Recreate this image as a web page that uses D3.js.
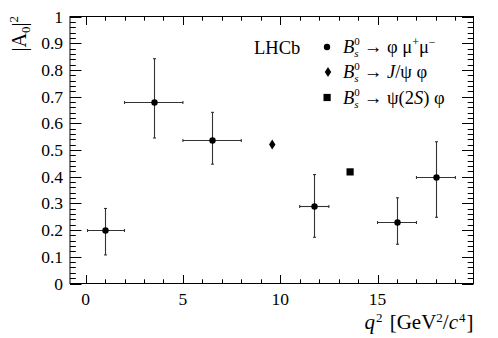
<!DOCTYPE html>
<html>
<head>
<meta charset="utf-8">
<script src="https://cdn.jsdelivr.net/npm/d3@7"></script>
<style>
  body { margin: 0; background: #fff; }
</style>
</head>
<body>
<div id="chart"></div>
<script>
// phi mu mu bins
const q2 = [1.0, 3.5, 6.5, 11.75, 16, 18];
const q2Lo = [0.1, 2, 5, 11, 15, 17];
const q2Hi = [2, 5, 8, 12.5, 17, 19];
const a0 = [0.2, 0.678, 0.539, 0.289, 0.23, 0.4];
const a0Lo = [0.107, 0.545, 0.447, 0.173, 0.147, 0.248];
const a0Hi = [0.281, 0.842, 0.641, 0.408, 0.321, 0.531];

// control channels
const jpsi = { q2: 9.59, a0: 0.521 };
const psi2s = { q2: 13.59, a0: 0.418 };

const yTicks = [0, 0.1, 0.2, 0.3, 0.4, 0.5, 0.6, 0.7, 0.8, 0.9, 1];
const xTicks = [0, 5, 10, 15];

const width = 498, height = 338;
const frame = { left: 70, right: 473.5, top: 16.5, bottom: 283.5 };
const serif = "'Liberation Serif', 'Times New Roman', Times, 'DejaVu Serif', serif";

const svg = d3.select('#chart').append('svg')
    .attr('width', width)
    .attr('height', height)
    .attr('font-family', serif)
    .style('font-family', serif);

const x = d3.scaleLinear().domain([-0.8, 19.93]).range([frame.left, frame.right]);
const y = d3.scaleLinear().domain([0, 1]).range([frame.bottom, frame.top]);

const axes = svg.append('g').attr('stroke', '#000').attr('stroke-width', 1);

// frame
axes.append('rect')
    .attr('x', frame.left)
    .attr('y', frame.top)
    .attr('width', frame.right - frame.left)
    .attr('height', frame.bottom - frame.top)
    .attr('fill', 'none');

// x ticks (bottom and top)
const xMinor = d3.range(0, 20, 1);
xMinor.forEach((v) => {
    const len = v % 5 === 0 ? 8.5 : 4.2;
    const px = Math.round(x(v)) + 0.5;
    axes.append('line').attr('x1', px).attr('x2', px)
        .attr('y1', frame.bottom).attr('y2', frame.bottom - len);
    axes.append('line').attr('x1', px).attr('x2', px)
        .attr('y1', frame.top).attr('y2', frame.top + len);
});

// y ticks (left and right)
const yMinor = d3.range(0, 51).map((i) => i / 50);
yMinor.forEach((v, i) => {
    const len = i % 5 === 0 ? 11.5 : 5.8;
    const py = Math.round(y(v)) + 0.5;
    axes.append('line').attr('y1', py).attr('y2', py)
        .attr('x1', frame.left).attr('x2', frame.left + len);
    axes.append('line').attr('y1', py).attr('y2', py)
        .attr('x1', frame.right).attr('x2', frame.right - len);
});

// tick labels
svg.append('g').selectAll('text')
    .data(yTicks)
    .join('text')
    .attr('x', 63)
    .attr('y', (d) => y(d) + 6)
    .attr('text-anchor', 'end')
    .attr('font-size', '17.5px')
    .text((d) => d === 0 || d === 1 ? d : d.toFixed(1));

svg.append('g').selectAll('text')
    .data(xTicks)
    .join('text')
    .attr('x', (d) => x(d))
    .attr('y', 305)
    .attr('text-anchor', 'middle')
    .attr('font-size', '17.5px')
    .text((d) => d);

// axis titles
const xTitle = svg.append('text')
    .attr('x', frame.right)
    .attr('y', 329)
    .attr('text-anchor', 'end')
    .attr('font-size', '21px');
xTitle.append('tspan').attr('font-style', 'italic').text('q');
xTitle.append('tspan').attr('font-size', '13px').attr('dx', 1).attr('dy', -7).text('2');
xTitle.append('tspan').attr('dx', 2).attr('dy', 7).text(' [GeV');
xTitle.append('tspan').attr('font-size', '13px').attr('dy', -7).text('2');
xTitle.append('tspan').attr('dy', 7).text('/');
xTitle.append('tspan').attr('font-style', 'italic').text('c');
xTitle.append('tspan').attr('font-size', '13px').attr('dx', 1).attr('dy', -7).text('4');
xTitle.append('tspan').attr('dx', 1).attr('dy', 7).text(']');

const yTitle = svg.append('text')
    .attr('transform', 'translate(26, 16) rotate(-90)')
    .attr('text-anchor', 'end')
    .attr('font-size', '20px');
yTitle.append('tspan').text('|A');
yTitle.append('tspan').attr('font-size', '13px').attr('dy', 4).text('0');
yTitle.append('tspan').attr('dy', -4).text('|');
yTitle.append('tspan').attr('font-size', '13px').attr('dy', -8).text('2');

// error bars
const bars = svg.append('g').attr('stroke', '#333').attr('stroke-width', 1.1);
q2.forEach((v, i) => {
    const px = Math.round(x(v)) + 0.5;
    const py = Math.round(y(a0[i])) + 0.5;
    bars.append('line').attr('x1', x(q2Lo[i])).attr('x2', x(q2Hi[i]))
        .attr('y1', py).attr('y2', py);
    bars.append('line').attr('x1', px).attr('x2', px)
        .attr('y1', y(a0Lo[i])).attr('y2', y(a0Hi[i]));
    // small end caps
    [x(q2Lo[i]), x(q2Hi[i])].forEach((ex) => {
        bars.append('line').attr('x1', ex).attr('x2', ex)
            .attr('y1', py - 1.5).attr('y2', py + 1.5);
    });
    [y(a0Lo[i]), y(a0Hi[i])].forEach((ey) => {
        bars.append('line').attr('x1', px - 1.5).attr('x2', px + 1.5)
            .attr('y1', ey).attr('y2', ey);
    });
});

// markers
svg.append('g').selectAll('circle')
    .data(q2)
    .join('circle')
    .attr('cx', (d) => Math.round(x(d)) + 0.5)
    .attr('cy', (d, i) => Math.round(y(a0[i])) + 0.5)
    .attr('r', 3.2)
    .attr('fill', '#000');

const diamond = (cx, cy) =>
    `M${cx},${cy - 5}L${cx + 3.2},${cy}L${cx},${cy + 5}L${cx - 3.2},${cy}Z`;

svg.append('path')
    .attr('d', diamond(x(jpsi.q2), y(jpsi.a0)))
    .attr('fill', '#000');

svg.append('rect')
    .attr('x', x(psi2s.q2) - 3.6)
    .attr('y', y(psi2s.a0) - 3.6)
    .attr('width', 7.2)
    .attr('height', 7.2)
    .attr('fill', '#000');

// legend
svg.append('text')
    .attr('x', 254)
    .attr('y', 54)
    .attr('font-size', '18.5px')
    .text('LHCb');

const legendRows = [
    { y: 47, tail: [['\u2192 \u03c6 \u03bc'], ['+', 'sup'], ['\u03bc'], ['\u2212', 'sup']] },
    { y: 72, tail: [['\u2192 '], ['J', 'it'], ['/\u03c8 \u03c6']] },
    { y: 97.5, tail: [['\u2192 \u03c8(2'], ['S', 'it'], [') \u03c6']] },
];

svg.append('circle').attr('cx', 327).attr('cy', legendRows[0].y).attr('r', 3.2).attr('fill', '#000');
svg.append('path').attr('d', diamond(328, legendRows[1].y)).attr('fill', '#000');
svg.append('rect').attr('x', 323.5).attr('y', legendRows[2].y - 3.6)
    .attr('width', 7.2).attr('height', 7.2).attr('fill', '#000');

legendRows.forEach((row) => {
    const t = svg.append('text')
        .attr('x', 343)
        .attr('y', row.y + 6)
        .attr('font-size', '18.5px');
    t.append('tspan').attr('font-style', 'italic').text('B');
    t.append('tspan').attr('font-style', 'italic').attr('font-size', '11px').attr('dy', 4).text('s');
    t.append('tspan').attr('font-size', '11px').attr('dx', -4.3).attr('dy', -12).text('0');
    let dy = 8;
    let first = true;
    row.tail.forEach(([txt, kind]) => {
        const s = t.append('tspan');
        if (first) { s.attr('dx', 4); first = false; }
        if (kind === 'sup') {
            s.attr('font-size', '12px').attr('dy', dy - 7);
            dy = 7;
        } else {
            s.attr('dy', dy);
            dy = 0;
            if (kind === 'it') s.attr('font-style', 'italic');
        }
        s.text(txt);
    });
});
</script>
</body>
</html>
